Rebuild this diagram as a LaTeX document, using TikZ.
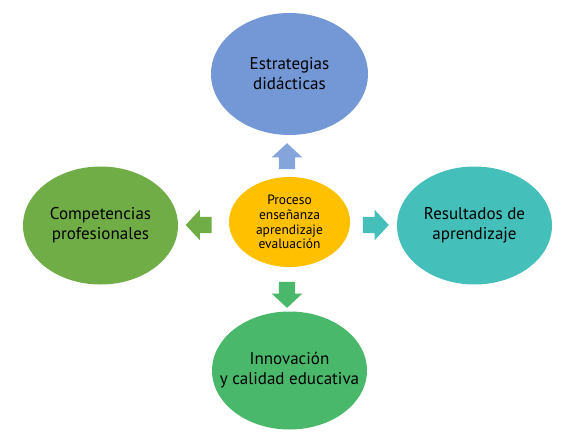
\documentclass[tikz,border=0pt]{standalone}
\usepackage{fontspec}
\setmainfont{PT Sans}
\usepackage{tikz}
\usetikzlibrary{shapes.geometric,shapes.arrows}
\definecolor{azul}{RGB}{116,152,214}
\definecolor{azulflecha}{RGB}{134,164,220}
\definecolor{verde}{RGB}{112,173,71}
\definecolor{turquesa}{RGB}{69,191,185}
\definecolor{verdeclaro}{RGB}{74,184,106}
\definecolor{oro}{RGB}{255,192,0}

\begin{document}
\begin{tikzpicture}[x=1pt,y=1pt]
            \useasboundingbox (0,0) rectangle (577,440);
            \tikzstyle{main node}=[ellipse,fill,inner xsep=-15pt,inner ysep=0pt,align=center,minimum width=155pt,minimum height=118pt,font=\fontsize{17}{20}\selectfont]
            \tikzstyle{flecha}=[single arrow,inner xsep=0pt,inner ysep=8pt,minimum height=26pt,single arrow head extend=7pt,single arrow tip angle=94]
            \tikzstyle{flecha v}=[flecha,inner xsep=8pt,inner ysep=0pt]
            \node[main node,fill=oro,inner xsep=-5pt,minimum width=121pt,minimum height=90pt,font=\fontsize{13.5}{14.8}\selectfont] (P) at (289.5,218) {Proceso\\enseñanza\\aprendizaje\\evaluación};
            \node[main node,fill=azul,minimum width=157pt,minimum height=122pt,node distance=148pt] (E) [above of=P] {Estrategias\\didácticas};
            \node[main node,fill=verde,node distance=189pt] (C) [left of=P,yshift=-3.5pt] {Competencias\\profesionales};
            \node[main node,fill=turquesa,node distance=185pt] (R) [right of=P,yshift=-3.5pt] {Resultados de\\aprendizaje};
            \node[main node,fill=verdeclaro,node distance=148.5pt] (I) [below of=P] {Innovación\\y calidad educativa};

            \node[flecha v,fill=azulflecha,shape border rotate=90,node distance=62pt] (fE) [above of=P,xshift=-2.5pt] {};
            \node[flecha,fill=verde,shape border rotate=180,node distance=87pt] (fC) [left of=P,yshift=-3pt] {};
            \node[flecha,fill=turquesa,node distance=82.5pt] (fR) [right of=P,yshift=-3pt] {};
            \node[flecha v,fill=verdeclaro,shape border rotate=270,node distance=69pt] (fI) [below of=P,xshift=-2.5pt] {};
        \end{tikzpicture}
\end{document}
